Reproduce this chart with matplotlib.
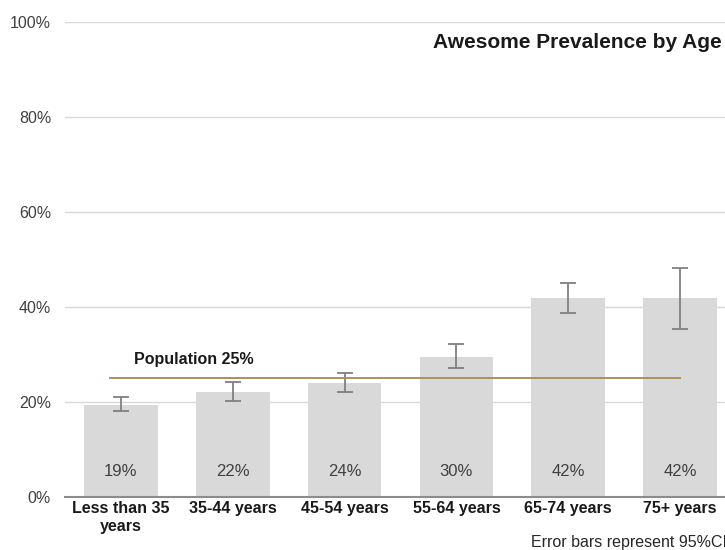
import matplotlib
matplotlib.use("Agg")
import matplotlib.pyplot as plt
import matplotlib.transforms as mtransforms

plt.rcParams['font.family'] = ['Liberation Sans', 'DejaVu Sans']

categories = ["Less than 35\nyears", "35-44 years", "45-54 years", "55-64 years", "65-74 years", "75+ years"]
values = [19.4, 22.1, 24.0, 29.5, 41.9, 41.9]
value_labels = ["19%", "22%", "24%", "30%", "42%", "42%"]
ci_low = [18.1, 20.2, 22.1, 27.2, 38.7, 35.4]
ci_high = [21.0, 24.2, 26.1, 32.2, 45.1, 48.2]
population = 25
yticks = [0, 20, 40, 60, 80, 100]
ytick_labels = ["0%", "20%", "40%", "60%", "80%", "100%"]
title = "Awesome Prevalence by Age"
footnote = "Error bars represent 95%CI"

fig = plt.figure(figsize=(7.25, 5.5), dpi=100)
ax = fig.add_axes([65/725, 53/550, 671/725, 475/550])

x = list(range(len(categories)))
ax.bar(x, values, width=0.66, color="#d9d9d9", zorder=2)
yerr = [[v - l for v, l in zip(values, ci_low)], [h - v for v, h in zip(values, ci_high)]]
ax.errorbar(x, values, yerr=yerr, fmt="none", ecolor="#808080", elinewidth=1.3,
            capsize=6, capthick=1.3, zorder=3)

ax.plot([-0.1, 5.0], [population, population], color="#a8925f", lw=1.4, zorder=4)
ax.text(0.12, population + 3.0, f"Population {population}%", fontsize=11.5, fontweight="bold",
        color="#1a1a1a", ha="left", va="baseline")

trans = mtransforms.blended_transform_factory(ax.transData, ax.transAxes)
for xi, lab in zip(x, value_labels):
    ax.text(xi, 0.054, lab, transform=trans, ha="center", va="center", fontsize=12, color="#404040")

ax.set_xlim(-0.5, 5.5)
ax.set_ylim(0, 100)
ax.set_yticks(yticks)
ax.set_yticklabels(ytick_labels, fontsize=11.5, color="#404040")
ax.set_xticks(x)
ax.set_xticklabels(categories, fontsize=11.5, fontweight="bold", color="#1a1a1a", linespacing=1.2)
ax.tick_params(axis="both", length=0)
ax.tick_params(axis="y", pad=10)
ax.tick_params(axis="x", pad=3)
ax.yaxis.grid(True, color="#d9d9d9", lw=1, zorder=0)
ax.set_axisbelow(True)
for s in ["top", "right", "left"]:
    ax.spines[s].set_visible(False)
ax.spines["bottom"].set_color("#8c8c8c")
ax.spines["bottom"].set_linewidth(1.5)
ax.spines["bottom"].set_zorder(5)

fig.text(433/725, 1 - 42/550, title, fontsize=15, fontweight="bold", color="#1a1a1a",
         ha="left", va="center")
fig.text(531/725, 1 - 542/550, footnote, fontsize=11.5, color="#262626", ha="left", va="center")

fig.savefig("out.png", dpi=100)
